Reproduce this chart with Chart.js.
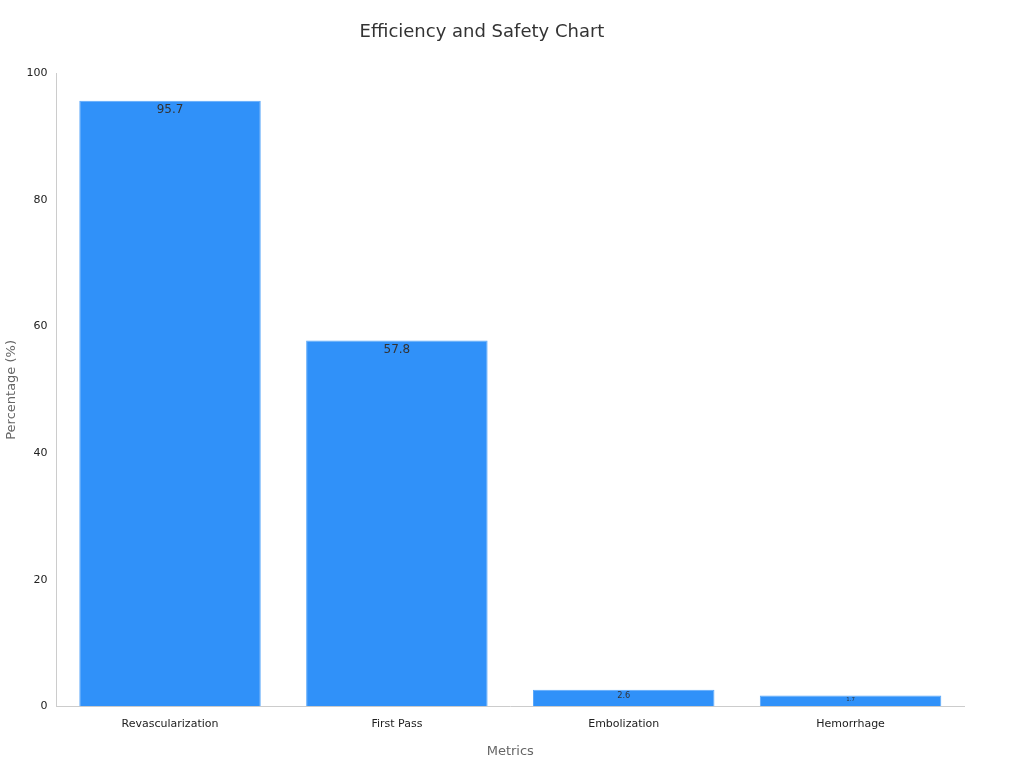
<!DOCTYPE html><html><head><script src="https://cdn.jsdelivr.net/npm/chart.js"></script>
<style>body{margin:0;background:#fff}#w{width:1024px;height:768px}</style></head><body><div id="w"><canvas id="c"></canvas></div>
<script>
const categories=["Revascularization","First Pass","Embolization","Hemorrhage"];
const values=[95.7,57.8,2.6,1.7];
const F="'DejaVu Sans', sans-serif";
const lbl={id:'lbl',afterDatasetsDraw(ch){const ctx=ch.ctx;ch.getDatasetMeta(0).data.forEach((b,i)=>{const h=b.base-b.y;const s=Math.min(12,Math.max(4,h*0.5));ctx.save();ctx.font=s+"px "+F;ctx.fillStyle="#333";ctx.textAlign="center";ctx.textBaseline="top";ctx.fillText(values[i],b.x,b.y+Math.min(3,h*0.15));ctx.restore();});}};
new Chart(document.getElementById('c'),{type:'bar',data:{labels:categories,datasets:[{data:values,backgroundColor:'#3091f9',borderColor:'#5aa8fa',borderWidth:1,barPercentage:0.8,categoryPercentage:1}]},
options:{responsive:true,maintainAspectRatio:false,animation:false,layout:{padding:{left:0,right:60,top:10,bottom:5}},
plugins:{legend:{display:false},tooltip:{enabled:false},title:{display:true,text:'Efficiency and Safety Chart',color:'#333',font:{family:F,size:18,weight:'normal'},padding:{top:12,bottom:30}}},
scales:{x:{grid:{display:false,drawTicks:true},border:{color:'#ccc'},ticks:{color:'#222',font:{family:F,size:11}},title:{display:true,text:'Metrics',color:'#666',font:{family:F,size:13},padding:{top:10}}},
y:{min:0,max:100,ticks:{stepSize:20,color:'#222',font:{family:F,size:11}},grid:{display:false,drawTicks:true,tickLength:6},border:{color:'#ccc'},title:{display:true,text:'Percentage (%)',color:'#666',font:{family:F,size:13}}}}},plugins:[lbl]});
</script></body></html>
